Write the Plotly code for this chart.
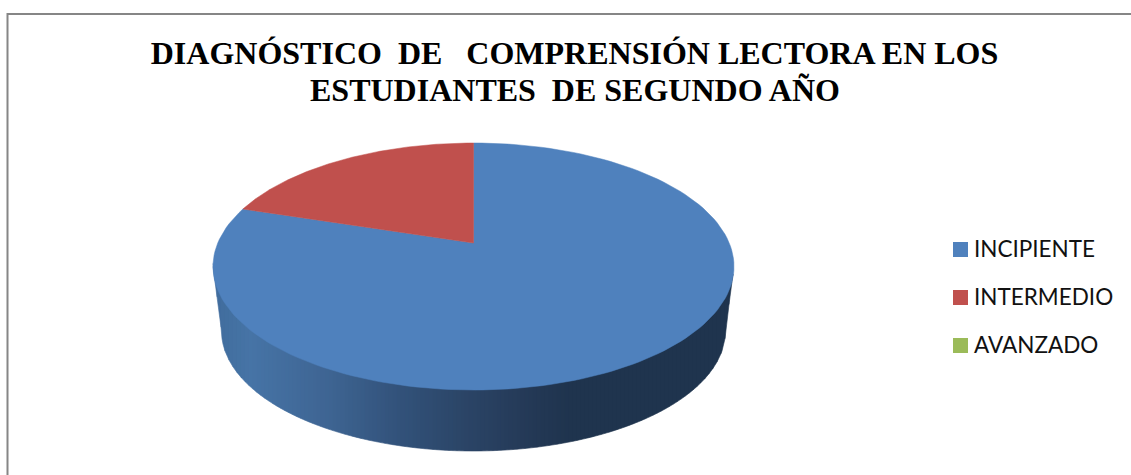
import numpy as np
import plotly.graph_objects as go

categories = ["INCIPIENTE", "INTERMEDIO", "AVANZADO"]
values = [82.7, 17.3, 0]
colors = ["#4F81BD", "#C0504D", "#9BBB59"]
title_line1 = "DIAGNÓSTICO\u00a0\u00a0DE\u00a0\u00a0\u00a0COMPRENSIÓN LECTORA EN LOS"
title_line2 = "ESTUDIANTES\u00a0\u00a0DE SEGUNDO AÑO"

# geometry of the tilted disc, in page pixels
CX, CY, RX, RY = 473.5, 266.5, 260.5, 123.5
APEX_Y = 243
BX, BY, BRX, BRY = 473.5, 331, 252, 120
side_stops_x = [213, 250, 330, 400, 473, 530, 570, 735]
side_stops_rgb = [(64, 108, 156), (70, 116, 166), (62, 100, 146), (50, 82, 122),
                  (42, 67, 100), (36, 57, 86), (31, 52, 78), (31, 52, 78)]
legend_x = 960.5
legend_y = [249.5, 297.5, 345.5]
legend_text_x = 974
legend_text_dy = 2


def rim(a0, a1, n=160):
    """Points on the top ellipse, angle clockwise from 12 o'clock."""
    t = np.linspace(a0, a1, n)
    return CX + RX * np.sin(t), CY - RY * np.cos(t)


fig = go.Figure()

# side wall drawn as narrow vertical bands with a horizontal gradient
edges = np.arange(213, 735.5, 4.0)
edges[-1] = min(edges[-1], 734)


def side_top(x):
    return CY + RY * np.sqrt(np.clip(1 - ((x - CX) / RX) ** 2, 0, 1))


def side_bottom(x):
    d = np.abs(x - BX)
    inside = BY + BRY * np.sqrt(np.clip(1 - (d / BRX) ** 2, 0, 1))
    outer = CY + (BY - CY) * (RX - d) / (RX - BRX)
    return np.where(d <= BRX, inside, outer)


for x0, x1 in zip(edges[:-1], edges[1:]):
    xs = np.linspace(x0, x1, 5)
    rgb = [np.interp((x0 + x1) / 2, side_stops_x, [c[i] for c in side_stops_rgb]) for i in range(3)]
    col = f"rgb({rgb[0]:.0f},{rgb[1]:.0f},{rgb[2]:.0f})"
    fig.add_trace(go.Scatter(
        x=np.r_[xs, xs[::-1]], y=np.r_[side_top(xs) - 3, side_bottom(xs[::-1])],
        mode="lines", fill="toself", fillcolor=col, line=dict(color=col, width=0.6),
        hoverinfo="skip", showlegend=False))

# top face: sectors run from 12 o'clock, first clockwise, from the values
fractions = np.array(values, dtype=float) / sum(values)
start = 0.0
for name, frac, color in zip(categories, fractions, colors):
    end = start + frac * 2 * np.pi
    if frac > 0:
        x, y = rim(start, end)
        fig.add_trace(go.Scatter(
            x=np.r_[CX, x, CX], y=np.r_[APEX_Y, y, APEX_Y], mode="lines", fill="toself",
            fillcolor=color, line=dict(color=color, width=0.5), name=name,
            hoverinfo="name", showlegend=False))
    start = end

# key: square swatch and label for each category
for name, color, ly in zip(categories, colors, legend_y):
    fig.add_trace(go.Scatter(
        x=[legend_x], y=[ly], mode="markers", name=name,
        marker=dict(symbol="square", size=15, color=color, line=dict(width=0)),
        showlegend=False, hoverinfo="name", cliponaxis=False))
    fig.add_trace(go.Scatter(
        x=[legend_text_x], y=[ly + legend_text_dy], mode="text", name=name, text=[name],
        textposition="middle right",
        textfont=dict(family="Lato", size=22.5, color="#111111"),
        showlegend=False, hoverinfo="skip", cliponaxis=False))

title_font = dict(family="Liberation Serif", size=32, color="black", weight="bold")
fig.update_layout(
    width=1131, height=475, autosize=False,
    margin=dict(l=0, r=0, t=0, b=0),
    paper_bgcolor="white", plot_bgcolor="white",
    showlegend=False,
    xaxis=dict(range=[0, 1131], visible=False, fixedrange=True),
    yaxis=dict(range=[475, 0], visible=False, fixedrange=True),
    title=dict(
        text=title_line1, font=title_font,
        x=574.5 / 1131, xanchor="center", y=1 - 53 / 475, yanchor="middle",
        xref="container", yref="container"),
    annotations=[dict(
        text=title_line2, font=title_font, showarrow=False,
        xref="x", yref="y", x=574.5, y=90, xanchor="center", yanchor="middle")],
    shapes=[
        dict(type="line", xref="x", yref="y", x0=7.5, x1=7.5, y0=13, y1=475, line=dict(color="#868686", width=2)),
        dict(type="line", xref="x", yref="y", x0=7, x1=1131, y0=14, y1=14, line=dict(color="#868686", width=2)),
    ],
)
fig.write_html("out.html", config={"displayModeBar": False},
               post_script="document.body.style.margin='0';")
